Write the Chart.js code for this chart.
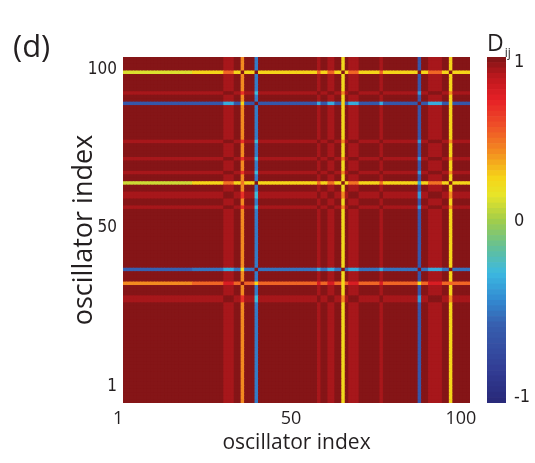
<!DOCTYPE html>
<html>
<head>
<meta charset="utf-8">
<script src="https://cdn.jsdelivr.net/npm/chart.js@4/dist/chart.umd.min.js"></script>
<style>
  html, body { margin: 0; padding: 0; background: #fff; }
  #wrap { position: relative; width: 535px; height: 463px; overflow: hidden; font-family: "Open Sans", sans-serif; color: #231f20; }
  #heat { position: absolute; left: 0; top: 0; }
  #bar { position: absolute; left: 470px; top: 0; }
  .lbl { position: absolute; white-space: nowrap; line-height: 1; }
  #panel { left: 13px; top: 30px; font-size: 31px; }
  #dlabel { left: 487px; top: 31px; font-size: 23px; }
  #dlabel sub { font-size: 12px; vertical-align: -6px; margin-left: 1px; }
</style>
</head>
<body>
<div id="wrap">
  <canvas id="heat" width="535" height="463"></canvas>
  <canvas id="bar" width="65" height="463"></canvas>
  <div class="lbl" id="panel">(d)</div>
  <div class="lbl" id="dlabel">D<sub>ij</sub></div>
</div>
<script>
// oscillators 1..100
const oscIndex = Array.from({ length: 100 }, (_, i) => i + 1);

// groups (rows and columns sit a little apart in the figure)
const earlyOsc = [1, 2, 3, 4, 5, 6, 7, 8, 9, 10, 11, 12, 13, 14, 15, 16, 17, 18, 19, 20];
const paleRows = [30, 31, 57, 60, 61, 67, 71, 76, 90];
const paleCols = [30, 31, 32, 57, 60, 61, 66, 67, 68, 75, 89, 90, 91, 92];
const specialRows = [35, 39, 64, 87, 96];
const specialCols = [35, 39, 64, 86, 95];

// D_ij between groups (row group -> column group)
// order: early, bulk, pale, s35, s39, s64, s87, s96
const blockEarly = [1, 1, 0.93, 0.45, -0.45, 0.28, -0.6, 0.3];
const blockBulk = [1, 1, 0.93, 0.45, -0.45, 0.28, -0.6, 0.3];
const blockPale = [0.93, 0.93, 1, 0.7, -0.25, 0.45, -0.35, 0.45];
const block35 = [0.45, 0.55, 0.8, 1, 0.3, 0.3, 0.3, 0.55];
const block39 = [-0.55, -0.5, -0.3, 0.2, 1, 1, 1, 1];
const block64 = [0.15, 0.3, 0.5, 0.5, 1, 1, -0.3, 1];
const block87 = [-0.6, -0.6, -0.3, 0.3, 1, 0.3, 1, 0.3];
const block96 = [0.18, 0.3, 0.55, 1, 1, 1, 1, 1];
const blockD = [blockEarly, blockBulk, blockPale, block35, block39, block64, block87, block96];

// tick labels and where they sit on the axes
const xTickLabels = ['1', '50', '100'];
const xTickAt = [-1.4, 48.4, 97.4];
const yTickLabels = ['1', '50', '100'];
const yTickAt = [4.7, 50.6, 96.5];
const cbTickLabels = ['-1', '0', '1'];
const cbTickAt = [-0.97, 0.05, 0.97];

// jet-like colormap as printed in the figure
const cmapStops = [
  [-1.0, [40, 40, 120]],
  [-0.8, [50, 62, 150]],
  [-0.55, [55, 95, 175]],
  [-0.4, [50, 140, 210]],
  [-0.25, [60, 185, 225]],
  [-0.1, [100, 192, 150]],
  [0.05, [160, 205, 75]],
  [0.2, [232, 228, 40]],
  [0.3, [245, 212, 25]],
  [0.45, [243, 140, 32]],
  [0.6, [238, 80, 40]],
  [0.75, [230, 32, 38]],
  [0.88, [190, 24, 30]],
  [1.0, [124, 20, 22]]
];
function stopColor(v) {
  for (let i = 1; i < cmapStops.length; i++) {
    const [v1, c1] = cmapStops[i];
    const [v0, c0] = cmapStops[i - 1];
    if (v <= v1) {
      const t = (v - v0) / (v1 - v0);
      return c0.map((c, k) => Math.round(c + (c1[k] - c) * t));
    }
  }
  return cmapStops[cmapStops.length - 1][1];
}
const levels = 64;
const cmap = Array.from({ length: levels }, (_, k) => {
  const c = stopColor(-1 + 2 * (k + 0.5) / levels);
  return `rgb(${c[0]},${c[1]},${c[2]})`;
});
const colorFor = v => cmap[Math.min(levels - 1, Math.max(0, Math.floor((v + 1) / 2 * levels)))];

function groupOf(i, specials, pale) {
  const s = specials.indexOf(i);
  if (s >= 0) return 3 + s;
  if (pale.includes(i)) return 2;
  if (earlyOsc.includes(i)) return 0;
  return 1;
}

const rowsets = oscIndex.map(row => ({
  label: 'oscillator ' + row,
  data: oscIndex.map(() => 1),
  backgroundColor: oscIndex.map(col =>
    colorFor(blockD[groupOf(row, specialRows, paleRows)][groupOf(col, specialCols, paleCols)])),
  borderWidth: 0,
  barPercentage: 1,
  categoryPercentage: 1
}));

const bgPlugin = {
  id: 'bg',
  beforeDatasetsDraw(chart) {
    const a = chart.chartArea;
    chart.ctx.save();
    chart.ctx.fillStyle = cmap[levels - 1];
    chart.ctx.fillRect(a.left, a.top, a.right - a.left, a.bottom - a.top);
    chart.ctx.restore();
  }
};

const ink = '#231f20';
const narrow = "'DejaVu Sans Condensed', 'Liberation Sans Narrow', Roboto, sans-serif";

new Chart(document.getElementById('heat'), {
  type: 'bar',
  data: { labels: oscIndex, datasets: rowsets },
  options: {
    responsive: false,
    animation: false,
    events: [],
    layout: { padding: { left: 0, top: 57, right: 65, bottom: 0 } },
    plugins: { legend: { display: false }, tooltip: { enabled: false } },
    scales: {
      x: { stacked: true, display: false, offset: true },
      xt: {
        type: 'linear', position: 'bottom', min: 0, max: 100, offset: false,
        afterBuildTicks: s => { s.ticks = xTickAt.map(v => ({ value: v })); },
        afterFit: s => { s.height = 60; },
        grid: { display: false, drawTicks: false, offset: false },
        border: { display: false },
        ticks: {
          autoSkip: false, maxRotation: 0, padding: 5, color: ink,
          font: { family: 'Open Sans', size: 18 },
          callback: (v, i) => xTickLabels[i]
        },
        title: {
          display: true, text: 'oscillator index', color: ink,
          font: { family: 'Open Sans', size: 21 }, padding: { top: 0, bottom: 7 }
        }
      },
      y: {
        stacked: true, min: 0, max: 100,
        afterBuildTicks: s => { s.ticks = yTickAt.map(v => ({ value: v })); },
        afterFit: s => { s.width = 123; },
        grid: { display: false, drawTicks: false },
        border: { display: false },
        ticks: {
          autoSkip: false, padding: 6, color: ink,
          font: { family: narrow, size: 17 },
          callback: (v, i) => yTickLabels[i]
        },
        title: {
          display: true, text: 'oscillator index', color: ink,
          font: { family: 'Open Sans', size: 27 }, padding: { top: 68, bottom: 0 }
        }
      }
    }
  },
  plugins: [bgPlugin]
});

// colour bar
const cbSets = cmap.map((c, k) => ({
  data: [[-1 + 2 * k / levels, -1 + 2 * (k + 1) / levels]],
  backgroundColor: c,
  borderWidth: 0,
  grouped: false,
  barPercentage: 1,
  categoryPercentage: 1
}));

new Chart(document.getElementById('bar'), {
  type: 'bar',
  data: { labels: ['D'], datasets: cbSets },
  options: {
    responsive: false,
    animation: false,
    events: [],
    layout: { padding: { left: 17, top: 57, right: 0, bottom: 60 } },
    plugins: { legend: { display: false }, tooltip: { enabled: false } },
    scales: {
      x: { display: false, offset: true },
      y: {
        position: 'right', min: -1, max: 1,
        afterBuildTicks: s => { s.ticks = cbTickAt.map(v => ({ value: v })); },
        afterFit: s => { s.width = 29; },
        grid: { display: false, drawTicks: false },
        border: { display: false },
        ticks: {
          autoSkip: false, padding: 8, color: ink,
          font: { family: narrow, size: 18 },
          callback: (v, i) => cbTickLabels[i]
        }
      }
    }
  }
});
</script>
</body>
</html>
